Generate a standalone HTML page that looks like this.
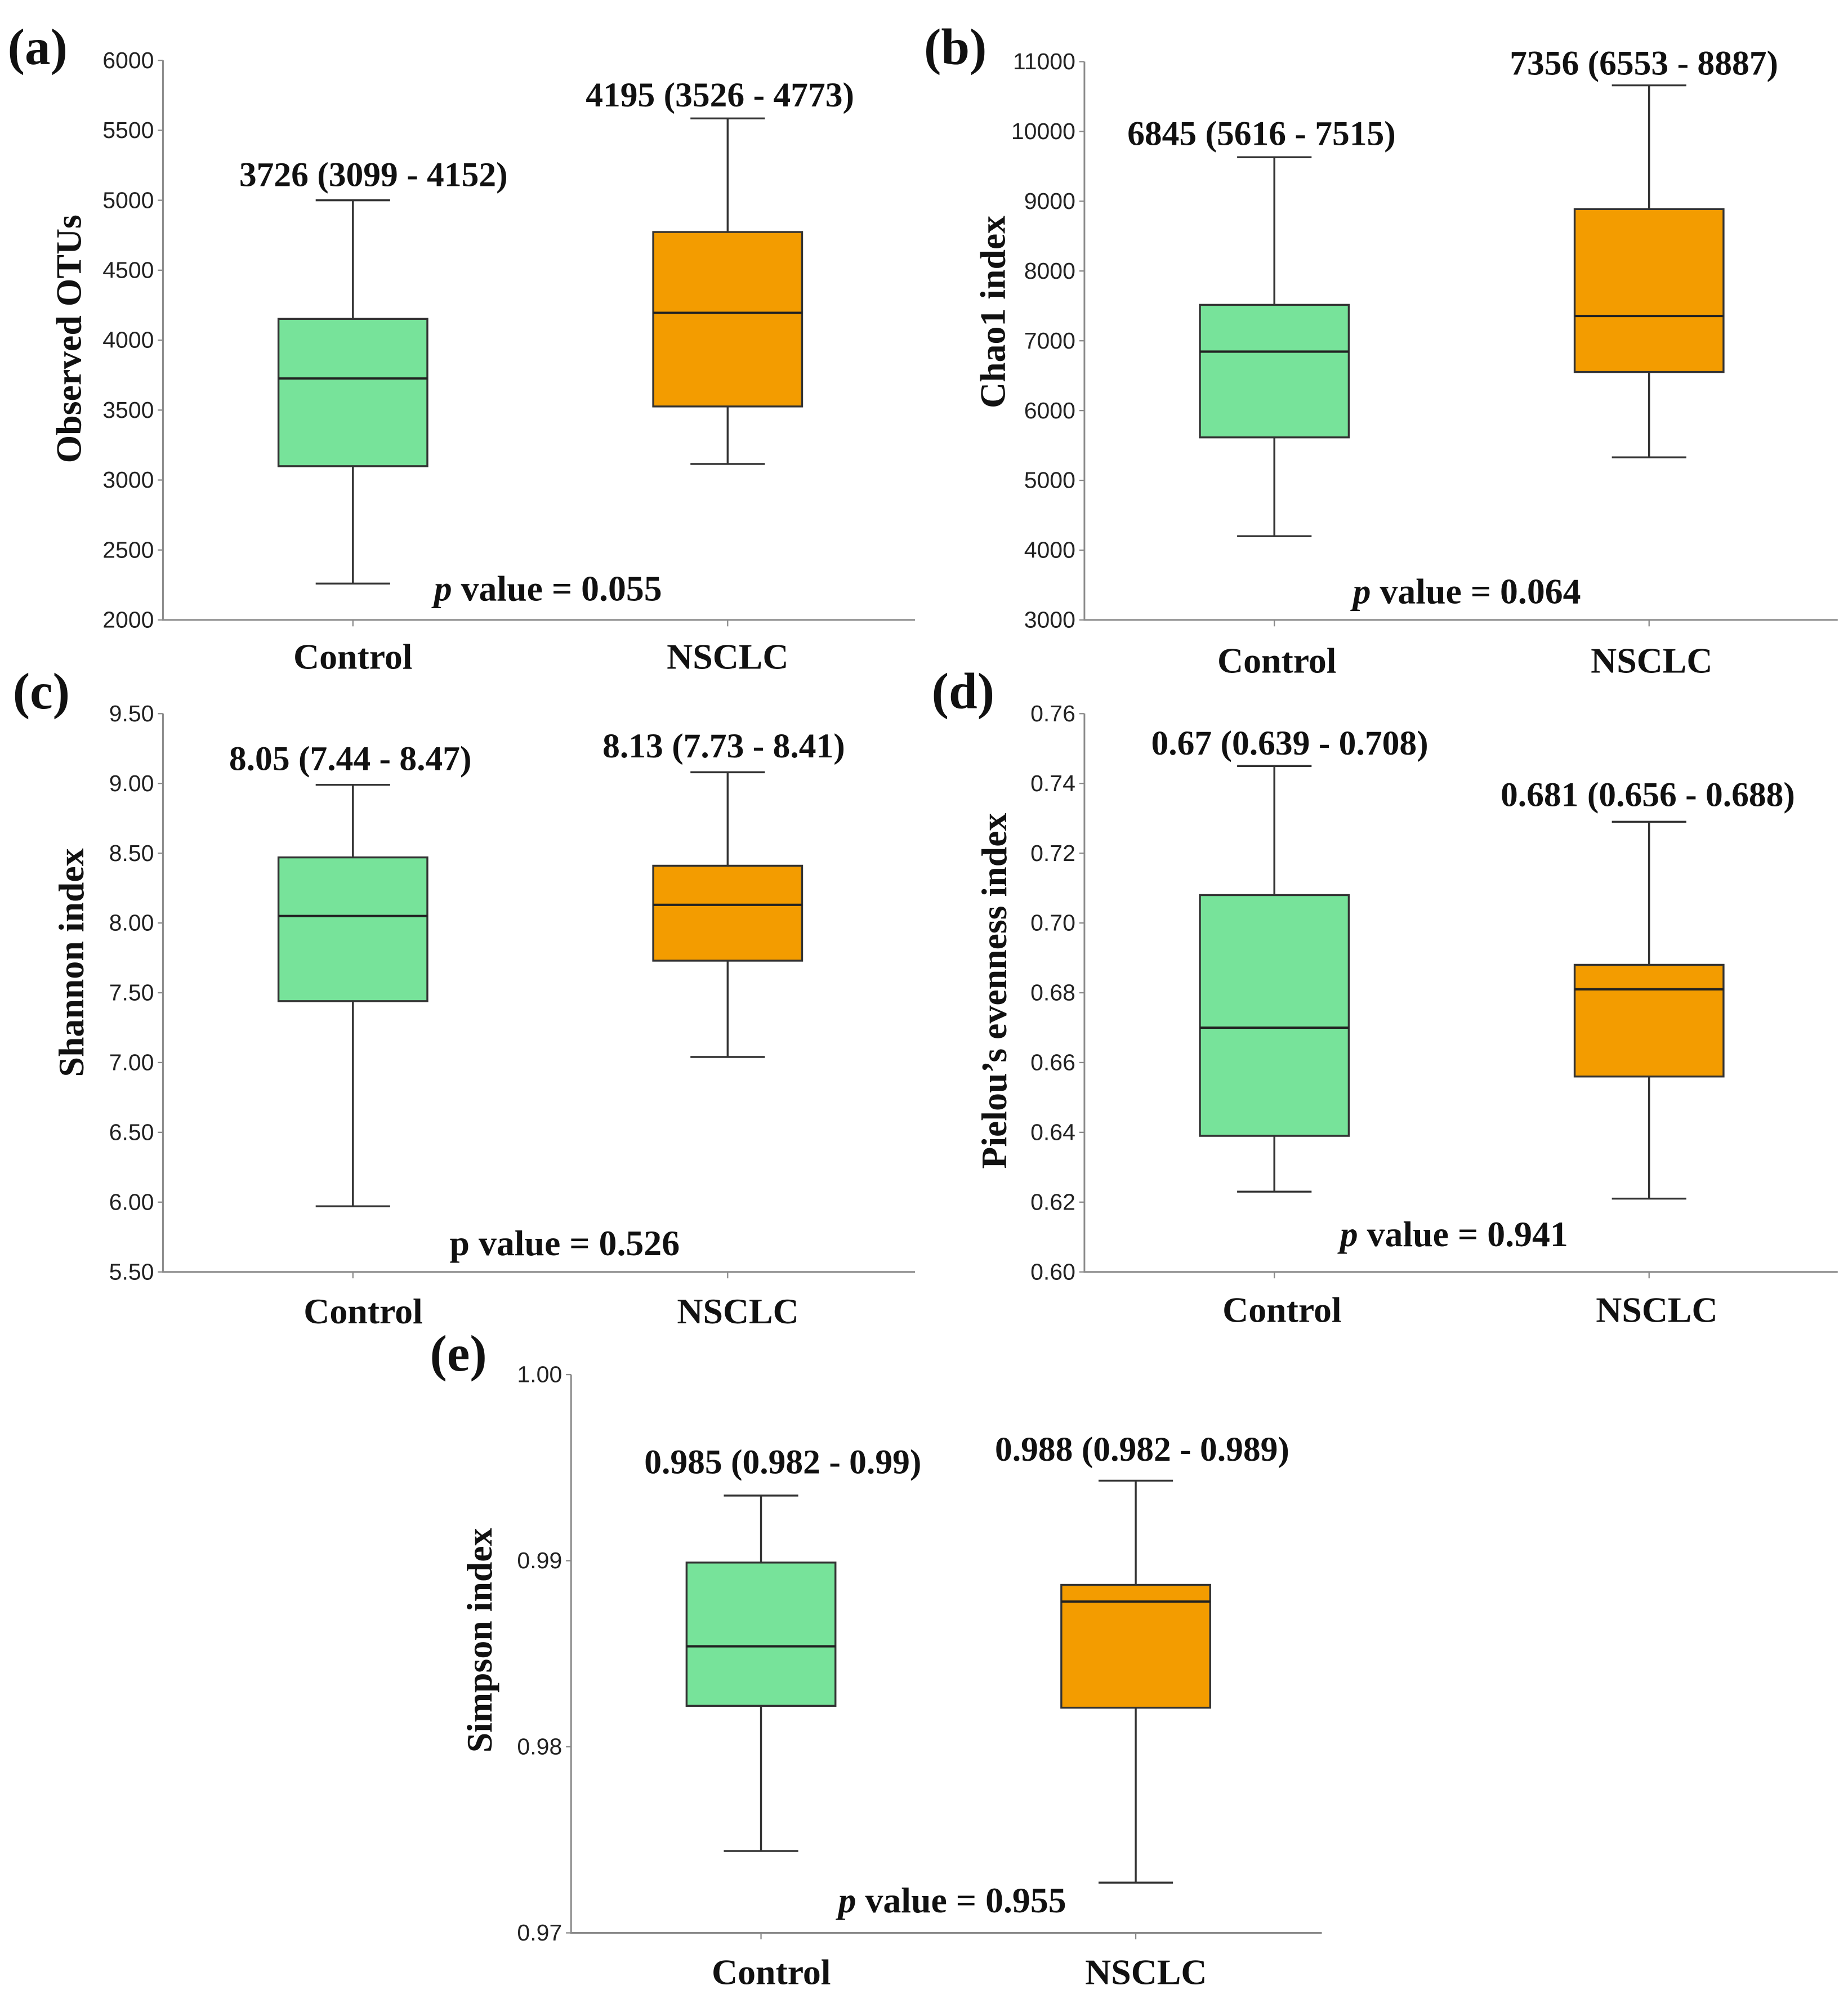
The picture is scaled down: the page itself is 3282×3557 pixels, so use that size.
<!DOCTYPE html>
<html><head><meta charset="utf-8"><style>
html,body{margin:0;padding:0;background:#fff;}
svg{display:block;}
.tick{font-family:"Liberation Sans Narrow","Liberation Sans",sans-serif;font-size:18px;fill:#222;}
.serifb{font-family:"Liberation Serif",serif;font-weight:bold;fill:#111;}
</style></head><body>
<svg id="fig" xmlns="http://www.w3.org/2000/svg" width="3282" height="3557" viewBox="0 0 1440 1560.6"></svg>
<script>
const categories = ["Control", "NSCLC"];
// Panel a: Observed OTUs
const aLow = [2260, 3115], aQ1 = [3099, 3526], aMed = [3726, 4195], aQ3 = [4152, 4773], aHigh = [5000, 5585];
const aTicks = [2000, 2500, 3000, 3500, 4000, 4500, 5000, 5500, 6000];
const aTickLabels = ["2000","2500","3000","3500","4000","4500","5000","5500","6000"];
const aAnnot = ["3726 (3099 - 4152)", "4195 (3526 - 4773)"];
// Panel b: Chao1
const bLow = [4200, 5330], bQ1 = [5616, 6553], bMed = [6845, 7356], bQ3 = [7515, 8887], bHigh = [9630, 10660];
const bTicks = [3000, 4000, 5000, 6000, 7000, 8000, 9000, 10000, 11000];
const bTickLabels = ["3000","4000","5000","6000","7000","8000","9000","10000","11000"];
const bAnnot = ["6845 (5616 - 7515)", "7356 (6553 - 8887)"];
// Panel c: Shannon
const cLow = [5.97, 7.04], cQ1 = [7.44, 7.73], cMed = [8.05, 8.13], cQ3 = [8.47, 8.41], cHigh = [8.99, 9.08];
const cTicks = [5.5, 6.0, 6.5, 7.0, 7.5, 8.0, 8.5, 9.0, 9.5];
const cTickLabels = ["5.50","6.00","6.50","7.00","7.50","8.00","8.50","9.00","9.50"];
const cAnnot = ["8.05 (7.44 - 8.47)", "8.13 (7.73 - 8.41)"];
// Panel d: Pielou
const dLow = [0.623, 0.621], dQ1 = [0.639, 0.656], dMed = [0.670, 0.681], dQ3 = [0.708, 0.688], dHigh = [0.745, 0.729];
const dTicks = [0.60, 0.62, 0.64, 0.66, 0.68, 0.70, 0.72, 0.74, 0.76];
const dTickLabels = ["0.60","0.62","0.64","0.66","0.68","0.70","0.72","0.74","0.76"];
const dAnnot = ["0.67 (0.639 - 0.708)", "0.681 (0.656 - 0.688)"];
// Panel e: Simpson
const eLow = [0.9744, 0.9727], eQ1 = [0.9822, 0.9821], eMed = [0.9854, 0.9878], eQ3 = [0.9899, 0.9887], eHigh = [0.9935, 0.9943];
const eTicks = [0.97, 0.98, 0.99, 1.00];
const eTickLabels = ["0.97","0.98","0.99","1.00"];
const eAnnot = ["0.985 (0.982 - 0.99)", "0.988 (0.982 - 0.989)"];

const colors = ["#77E39A", "#F39C00"];
const NS = "http://www.w3.org/2000/svg";
const svg = document.getElementById("fig");
function mk(tag, attrs, parent, text) {
  const e = document.createElementNS(NS, tag);
  for (const k in attrs) e.setAttribute(k, attrs[k]);
  if (text !== undefined) e.textContent = text;
  parent.appendChild(e);
  return e;
}
const panels = [
  {id:"a", label:"(a)", lx:6, ly:50, ax:127, top:47, bot:483, right:713, cx:[275,567], ylabel:"Observed OTUs", ylx:63, yly:264,
   low:aLow,q1:aQ1,med:aMed,q3:aQ3,high:aHigh,ticks:aTicks,tl:aTickLabels,annot:aAnnot,anx:[291,561],any:[145,83],
   p:[true,"value = 0.055"], px:427, py:468, xly:521, xo:0},
  {id:"b", label:"(b)", lx:720, ly:50, ax:845, top:48, bot:483, right:1432, cx:[993,1285], ylabel:"Chao1 index", ylx:783, yly:243,
   low:bLow,q1:bQ1,med:bMed,q3:bQ3,high:bHigh,ticks:bTicks,tl:bTickLabels,annot:bAnnot,anx:[983,1281],any:[113,58],
   p:[true,"value = 0.064"], px:1143, py:470, xly:524, xo:2},
  {id:"c", label:"(c)", lx:10, ly:552, ax:127, top:556, bot:991, right:713, cx:[275,567], ylabel:"Shannon index", ylx:65, yly:750,
   low:cLow,q1:cQ1,med:cMed,q3:cQ3,high:cHigh,ticks:cTicks,tl:cTickLabels,annot:cAnnot,anx:[273,564],any:[600,590],
   p:[false,"p value  = 0.526"], px:440, py:978, xly:1031, xo:8},
  {id:"d", label:"(d)", lx:726, ly:552, ax:845, top:556, bot:991, right:1432, cx:[993,1285], ylabel:"Pielou’s evenness index", ylx:784, yly:772,
   low:dLow,q1:dQ1,med:dMed,q3:dQ3,high:dHigh,ticks:dTicks,tl:dTickLabels,annot:dAnnot,anx:[1005,1284],any:[588,628],
   p:[true,"value = 0.941"], px:1133, py:971, xly:1030, xo:6},
  {id:"e", label:"(e)", lx:335, ly:1068, ax:445, top:1071, bot:1506, right:1030, cx:[593,885], ylabel:"Simpson index", ylx:383, yly:1278,
   low:eLow,q1:eQ1,med:eMed,q3:eQ3,high:eHigh,ticks:eTicks,tl:eTickLabels,annot:eAnnot,anx:[610,890],any:[1148,1138],
   p:[true,"value = 0.955"], px:742, py:1490, xly:1546, xo:8}
];
panels.forEach(P => {
  const g = mk("g", {}, svg);
  
  
  const t0 = P.ticks[0], t1 = P.ticks[P.ticks.length-1];
  const y = v => P.bot - (v - t0) / (t1 - t0) * (P.bot - P.top);
  const pl = mk("text", {x:P.lx, y:P.ly, class:"serifb", "font-size":40}, g, P.label);
  
  
  const axis = mk("path", {d:`M${P.ax},${P.top} V${P.bot} H${P.right}`, stroke:"#8a8a8a", "stroke-width":1.3, fill:"none"}, g);
  
  
  P.ticks.forEach((tv, i) => {
    const yy = y(tv);
    const tk = mk("line", {x1:P.ax-4, x2:P.ax, y1:yy, y2:yy, stroke:"#8a8a8a", "stroke-width":1}, g);
    
    
    const tl = mk("text", {x:P.ax-7, y:yy+6, "text-anchor":"end", class:"tick"}, g, P.tl[i]);
    
    
  });
  const yl = mk("text", {x:P.ylx, y:P.yly, "text-anchor":"middle", class:"serifb", "font-size":28, transform:`rotate(-90 ${P.ylx} ${P.yly})`}, g, P.ylabel);
  
  
  categories.forEach((c, i) => {
    const cx = P.cx[i], hw = 58, cw = 29;
    const xt = mk("line", {x1:cx, x2:cx, y1:P.bot, y2:P.bot+5, stroke:"#8a8a8a", "stroke-width":1}, g);
    
    
    const xl = mk("text", {x:cx+P.xo, y:P.xly, "text-anchor":"middle", class:"serifb", "font-size":28}, g, c);
    
    
    const wk = mk("path", {d:`M${cx},${y(P.high[i])} V${y(P.q3[i])} M${cx},${y(P.q1[i])} V${y(P.low[i])} M${cx-cw},${y(P.high[i])} H${cx+cw} M${cx-cw},${y(P.low[i])} H${cx+cw}`, stroke:"#333", "stroke-width":1.5, fill:"none"}, g);
    
    
    const bx = mk("rect", {x:cx-hw, y:y(P.q3[i]), width:2*hw, height:y(P.q1[i]) - y(P.q3[i]), fill:colors[i], stroke:"#333", "stroke-width":1.5}, g);
    
    
    const md = mk("line", {x1:cx-hw, x2:cx+hw, y1:y(P.med[i]), y2:y(P.med[i]), stroke:"#222", "stroke-width":1.8}, g);
    
    
    const an = mk("text", {x:P.anx[i], y:P.any[i], "text-anchor":"middle", class:"serifb", "font-size":27}, g, P.annot[i]);
    
    
  });
  const pt = mk("text", {x:P.px, y:P.py, "text-anchor":"middle", class:"serifb", "font-size":28}, g);
  
  
  if (P.p[0]) {
    mk("tspan", {"font-style":"italic"}, pt, "p ");
    mk("tspan", {}, pt, P.p[1]);
  } else {
    pt.textContent = P.p[1];
  }
});
</script>
</body></html>
